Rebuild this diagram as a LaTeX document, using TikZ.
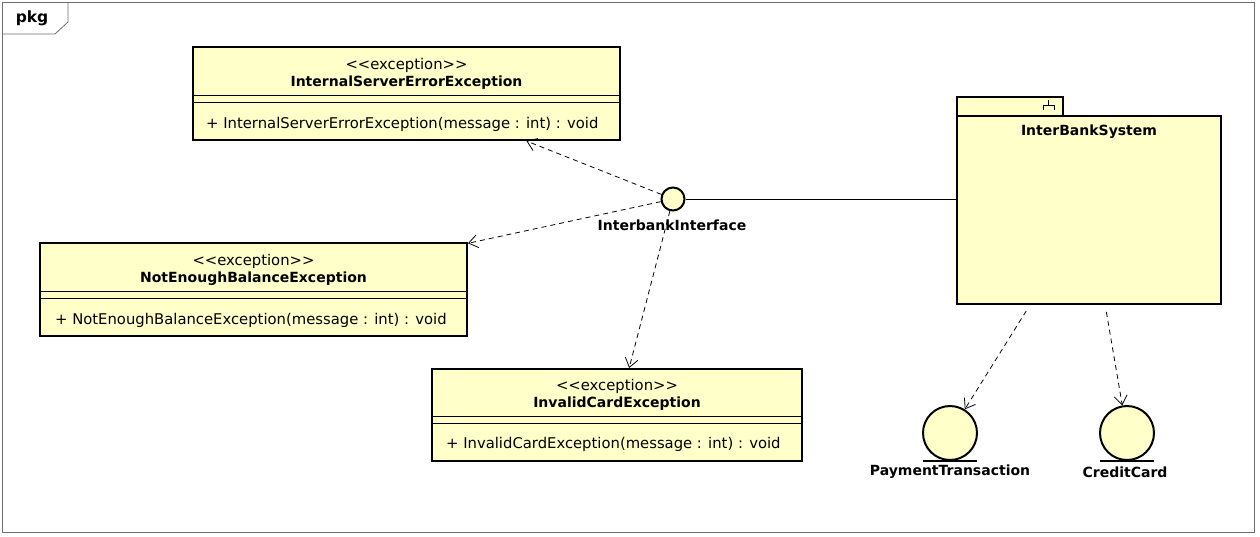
\documentclass[tikz,border=0pt]{standalone}
\usepackage{fontspec}
\setmainfont{DejaVu Sans}
\usetikzlibrary{arrows.meta}
\definecolor{umlfill}{RGB}{255,255,202}
\definecolor{framegray}{RGB}{110,110,110}
\begin{document}
\begin{tikzpicture}[x=1pt,y=-1pt,
  txt/.style={inner sep=0pt, font=\fontsize{14.8}{16}\selectfont},
  btxt/.style={inner sep=0pt, font=\fontsize{14}{16}\selectfont\bfseries},
  classbox/.style={draw, line width=2pt, fill=umlfill, inner sep=0pt},
  sep/.style={line width=0.8pt},
  dep/.style={dashed, dash pattern=on 5pt off 4pt, line width=0.8pt,
    -{Straight Barb[length=9pt,width=13pt,line width=0.8pt]}},
  entity/.style={circle, draw, line width=2pt, fill=umlfill, minimum size=54pt, inner sep=0pt},
]
\useasboundingbox (0,0) rectangle (1260,536);

% diagram frame with its name tab
\draw[framegray, line width=0.8pt] (2,2) rectangle (1254,532);
\draw[framegray, line width=0.8pt] (68,2) -- (68,22) -- (55,34) -- (2,34);
\node[inner sep=0pt, font=\fontsize{15.5}{17}\selectfont\bfseries] (pkgname) at (32,18) {pkg};

% exception classes
\node[classbox, minimum width=427pt, minimum height=93pt] (c1) at (406.5,93.5) {};
\node[txt] (c1s) at ([yshift=-19.5pt]c1.north) {<{}<exception>{}>};
\node[btxt] (c1n) at ([yshift=-36.5pt]c1.north) {InternalServerErrorException};
\draw[sep] ([yshift=-49pt]c1.north west) -- ([yshift=-49pt]c1.north east);
\draw[sep] ([yshift=-56pt]c1.north west) -- ([yshift=-56pt]c1.north east);
\node[txt, anchor=west] (c1o) at ([xshift=14pt,yshift=-78.5pt]c1.north west) {+ InternalServerErrorException(message : int) : void};

\node[classbox, minimum width=427pt, minimum height=93pt] (c2) at (253.5,289.5) {};
\node[txt] (c2s) at ([yshift=-19.5pt]c2.north) {<{}<exception>{}>};
\node[btxt] (c2n) at ([yshift=-36.5pt]c2.north) {NotEnoughBalanceException};
\draw[sep] ([yshift=-49pt]c2.north west) -- ([yshift=-49pt]c2.north east);
\draw[sep] ([yshift=-56pt]c2.north west) -- ([yshift=-56pt]c2.north east);
\node[txt, anchor=west] (c2o) at ([xshift=16pt,yshift=-78pt]c2.north west) {+ NotEnoughBalanceException(message : int) : void};

\node[classbox, minimum width=370pt, minimum height=92pt] (c3) at (617,415) {};
\node[txt] (c3s) at ([yshift=-18.5pt]c3.north) {<{}<exception>{}>};
\node[btxt] (c3n) at ([yshift=-36pt]c3.north) {InvalidCardException};
\draw[sep] ([yshift=-48pt]c3.north west) -- ([yshift=-48pt]c3.north east);
\draw[sep] ([yshift=-55pt]c3.north west) -- ([yshift=-55pt]c3.north east);
\node[txt, anchor=west] (c3o) at ([xshift=15pt,yshift=-76pt]c3.north west) {+ InvalidCardException(message : int) : void};

% provided interface
\node[circle, draw, line width=2pt, fill=umlfill, minimum size=23pt, inner sep=0pt] (ii) at (673,199) {};
\node[btxt] (iil) at (672,225) {InterbankInterface};

% subsystem package
\node[draw, line width=2pt, fill=umlfill, minimum width=106pt, minimum height=19pt, inner sep=0pt] (tab) at (1010,106.5) {};
\node[draw, line width=2pt, fill=umlfill, minimum width=264pt, minimum height=188pt, inner sep=0pt] (pkg) at (1089,210) {};
\node[btxt] (pkgn) at ([yshift=-17pt]pkg.north) {InterBankSystem};
\draw[line width=0.8pt] (1043,110) -- (1043,105) -- (1054,105) -- (1054,110) (1048.5,105) -- (1048.5,100);

\draw[line width=0.8pt] (ii) -- (ii -| pkg.west);

% dependencies of the interface
\draw[dep] (ii) -- (c1);
\draw[dep] (ii) -- (c2);
\draw[dep] (ii) -- (c3);

% entities
\node[entity] (pt) at (950,433) {};
\draw[line width=2pt] ([xshift=-27pt]pt.south) -- ([xshift=27pt]pt.south);
\node[btxt] (ptl) at (950,472) {PaymentTransaction};

\node[entity] (cc) at (1127,433) {};
\draw[line width=2pt] ([xshift=-27pt]cc.south) -- ([xshift=27pt]cc.south);
\node[btxt] (ccl) at (1125,472) {CreditCard};

\draw[dep, shorten <=7pt] (pkg) -- (pt);
\draw[dep, shorten <=7pt] (pkg) -- (cc);
\end{tikzpicture}
\end{document}
